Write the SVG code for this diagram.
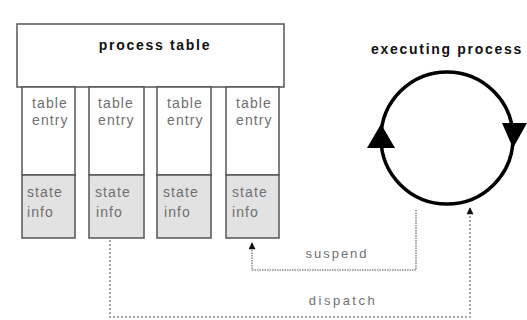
<svg xmlns="http://www.w3.org/2000/svg" width="527" height="320" viewBox="0 0 527 320">
  <style>
    .box { fill: #ffffff; stroke: #555555; stroke-width: 1.5; }
    .state { fill: #e2e2e2; stroke: #555555; stroke-width: 1.5; }
    .title { font-family: "Liberation Sans", Arial, sans-serif; font-size: 14px; font-weight: bold; fill: #111111; letter-spacing: 1.7px; }
    .cell { font-family: "Liberation Sans", Arial, sans-serif; font-size: 14px; fill: #707070; letter-spacing: 1.1px; }
    .label { font-family: "Liberation Sans", Arial, sans-serif; font-size: 13px; fill: #707070; }
    .ring { fill: none; stroke: #000000; stroke-width: 3.5; }
    .link { fill: none; stroke: #8a8a8a; stroke-width: 1.5; }
  </style>
  <defs>
    <marker id="tip" viewBox="0 0 10 10" refX="9" refY="5" markerWidth="10" markerHeight="7" orient="auto" markerUnits="userSpaceOnUse">
      <path d="M0,0 L10,5 L0,10 Z" fill="#111111"/>
    </marker>
  </defs>
  <rect width="527" height="320" fill="#ffffff"/>

  <g id="process-table">
    <rect class="box" x="17" y="24" width="267" height="63"/>
    <text class="title" x="155" y="50" text-anchor="middle">process table</text>
  </g>

  <g id="entry-1">
    <rect class="box" x="22" y="87" width="53" height="88"/>
    <rect class="state" x="22" y="175" width="53" height="63"/>
    <text class="cell" x="32" y="108">table</text>
    <text class="cell" x="32" y="125">entry</text>
    <text class="cell" x="27" y="197">state</text>
    <text class="cell" x="27" y="217">info</text>
  </g>
  <g id="entry-2">
    <rect class="box" x="89" y="87" width="55" height="88"/>
    <rect class="state" x="89" y="175" width="55" height="63"/>
    <text class="cell" x="98" y="108">table</text>
    <text class="cell" x="98" y="125">entry</text>
    <text class="cell" x="95" y="197">state</text>
    <text class="cell" x="96" y="217">info</text>
  </g>
  <g id="entry-3">
    <rect class="box" x="157" y="87" width="54" height="88"/>
    <rect class="state" x="157" y="175" width="54" height="63"/>
    <text class="cell" x="167" y="108">table</text>
    <text class="cell" x="167" y="125">entry</text>
    <text class="cell" x="163" y="197">state</text>
    <text class="cell" x="164" y="217">info</text>
  </g>
  <g id="entry-4">
    <rect class="box" x="226" y="87" width="53" height="88"/>
    <rect class="state" x="226" y="175" width="53" height="63"/>
    <text class="cell" x="236" y="108">table</text>
    <text class="cell" x="236" y="125">entry</text>
    <text class="cell" x="232" y="197">state</text>
    <text class="cell" x="232" y="217">info</text>
  </g>

  <g id="executing-process">
    <text class="title" x="447" y="54" text-anchor="middle">executing process</text>
    <circle class="ring" cx="447" cy="138" r="66"/>
    <!-- direction heads on the ring -->
    <path d="M381,124 L395,148 L367,148 Z" fill="#000000"/>
    <path d="M513,148 L527,123 L502,123 Z" fill="#000000"/>
  </g>

  <g id="connectors">
    <!-- suspend: ring back to the state info of the last entry -->
    <path class="link" d="M416,210 V270 H252 V243" stroke="#b0b0b0" stroke-dasharray="1.5,1" marker-end="url(#tip)"/>
    <text class="label" x="337" y="258" text-anchor="middle" letter-spacing="2">suspend</text>
    <!-- dispatch: state info of an entry to the ring -->
    <path class="link" d="M110,240 V317 H470 V208" stroke-dasharray="2,2" marker-end="url(#tip)"/>
    <text class="label" x="343" y="305" text-anchor="middle" letter-spacing="2.5">dispatch</text>
  </g>
</svg>
